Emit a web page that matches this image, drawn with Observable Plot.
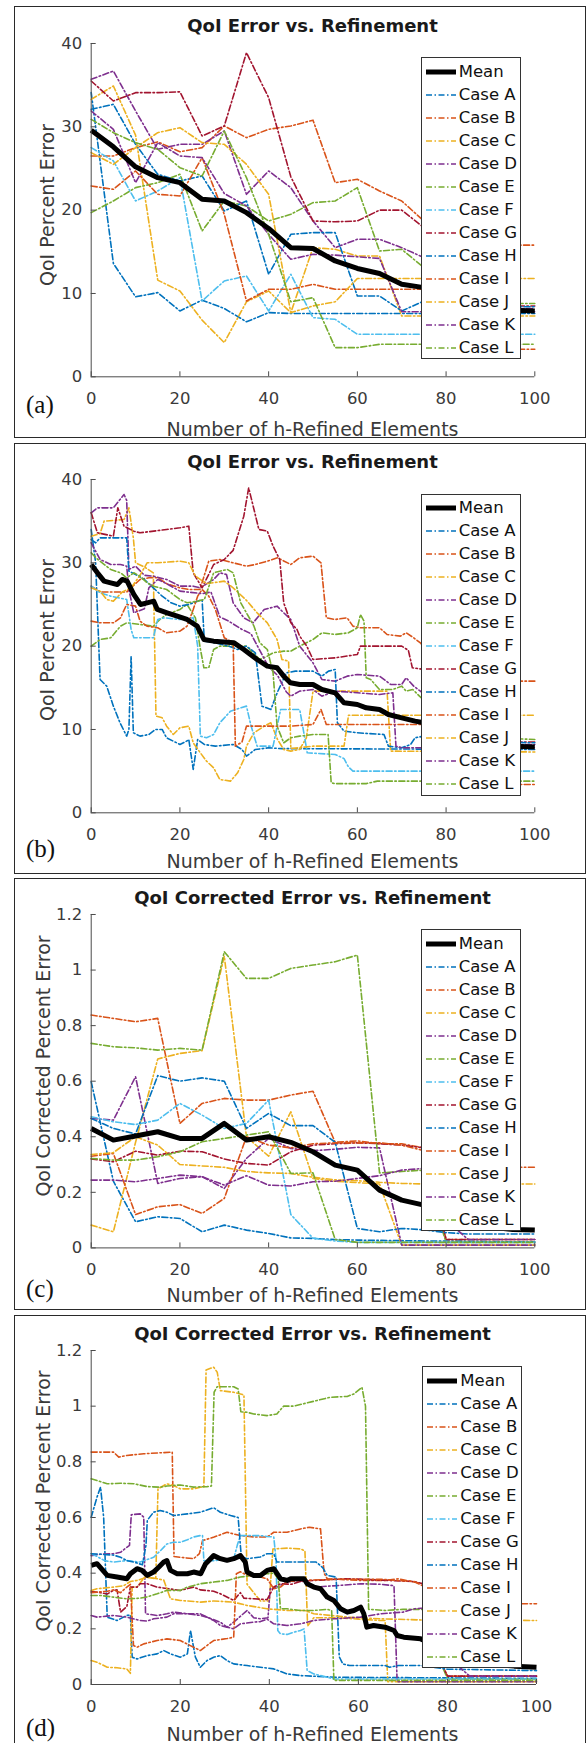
<!DOCTYPE html>
<html><head><meta charset="utf-8">
<script src="https://cdn.jsdelivr.net/npm/d3@7"></script>
<script src="https://cdn.jsdelivr.net/npm/@observablehq/plot@0.6"></script>
<style>
body{margin:0;background:#fff;}
#page{position:relative;width:587px;height:1743px;overflow:hidden;background:#fff;font-family:"DejaVu Sans",sans-serif;}
.box{position:absolute;border:1.5px solid #2a2a2a;box-sizing:border-box;}
.title{position:absolute;transform:translate(-50%,-50%);white-space:nowrap;font-weight:bold;font-size:18px;line-height:18px;color:#1a1a1a;}
.xlabel{position:absolute;transform:translate(-50%,-50%);white-space:nowrap;font-size:19px;line-height:19px;color:#3a3a3a;}
.ylabel{position:absolute;transform:translate(-50%,-50%) rotate(-90deg);white-space:nowrap;font-size:19px;line-height:19px;color:#3a3a3a;}
.letter{position:absolute;transform:translateY(-50%);font-family:"Liberation Serif",serif;font-size:25px;line-height:25px;color:#111;}
.legend{position:absolute;background:#fff;border:1px solid #333;box-sizing:border-box;width:100px;height:302px;}
.row{position:absolute;left:0;height:23px;width:100%;}
.row svg{position:absolute;left:4px;top:6px;}
.row span{position:absolute;left:37px;top:3px;font-size:16.5px;line-height:17px;color:#111;white-space:nowrap;}
</style></head>
<body><div id="page"></div>
<script>
// ---------------- data ----------------
const xTicks = [0, 20, 40, 60, 80, 100];
const yTicksErr = [0, 10, 20, 30, 40];
const yTicksCorr = [0, 0.2, 0.4, 0.6, 0.8, 1, 1.2];
const legendNames = ["Mean", "Case A", "Case B", "Case C", "Case D", "Case E", "Case F", "Case G", "Case H", "Case I", "Case J", "Case K", "Case L"];
const xs5 = [0,5,10,15,20,25,30,35,40,45,50,55,60,65,70,75,80,85,90,95,100];

// Panel (a): sampled every 5 elements
const a_mean = [29.6,27.6,25.2,23.9,23.3,21.3,21.1,19.7,17.8,15.5,15.4,13.9,13.0,12.4,11.1,10.7,9.8,9.0,8.4,8.0,7.9];
const a_A = [34.1,13.6,9.6,10.1,7.9,9.2,8.2,6.6,7.7,7.6,7.6,7.6,7.6,7.6,7.6,7.6,7.6,7.6,7.6,7.6,7.6];
const a_B = [26.5,26.5,27.5,28.2,27.0,27.5,30.1,28.7,29.7,30.1,30.8,23.3,23.7,22.3,21.1,18.7,17.5,16.6,16.0,15.8,15.8];
const a_C = [33.3,34.9,29.0,11.6,10.3,6.8,4.1,9.0,10.3,7.7,15.5,15.3,14.5,14.5,7.3,7.3,7.3,7.3,7.3,7.3,7.3];
const a_D = [35.7,36.7,31.9,27.3,27.9,27.9,29.5,21.9,24.7,22.7,18.7,15.5,16.5,16.5,15.5,14.3,12.0,10.0,8.2,8.2,8.2];
const a_E = [19.7,21.1,22.7,23.3,24.3,17.5,21.1,20.5,18.7,19.5,20.9,21.1,22.7,15.1,15.3,13.1,11.0,9.5,9.0,8.8,8.8];
const a_F = [27.5,25.9,21.1,22.3,23.9,9.1,11.5,12.1,7.9,12.3,7.1,6.9,5.1,5.1,5.1,5.1,5.1,5.1,5.1,5.1,5.1];
const a_G = [35.5,33.1,34.1,34.1,34.2,28.9,30.1,38.9,33.5,24.0,18.7,18.6,18.7,20.0,20.0,17.9,12.0,9.0,8.5,8.5,8.5];
const a_H = [32.1,32.7,27.9,24.3,23.5,24.1,19.9,21.1,12.3,17.1,17.3,17.3,9.7,9.7,7.9,9.1,8.8,8.6,8.5,8.4,8.4];
const a_I = [22.9,22.5,24.7,21.9,21.7,26.3,19.5,9.1,10.5,10.5,11.1,10.5,10.5,10.5,10.5,10.5,8.0,5.0,3.3,3.3,3.3];
const a_J = [26.9,25.5,27.5,29.3,29.9,28.1,27.9,25.5,21.9,7.7,8.5,9.0,11.8,11.8,11.8,11.8,11.8,11.8,11.8,11.8,11.8];
const a_K = [31.9,29.7,23.3,28.1,26.5,26.3,22.0,20.5,17.1,14.1,14.7,14.6,14.4,14.2,7.8,7.8,7.8,7.8,7.8,7.8,7.8];
const a_L = [30.9,29.3,28.1,27.3,25.1,24.1,29.5,23.9,17.1,9.0,9.5,3.5,3.5,3.9,3.9,3.9,3.9,3.9,3.9,3.9,3.9];

// Panel (c): sampled every 5 elements
const c_mean = [0.43,0.388,0.403,0.418,0.394,0.394,0.448,0.388,0.40,0.38,0.346,0.298,0.28,0.208,0.172,0.154,0.12,0.09,0.075,0.066,0.064];
const c_A = [0.598,0.24,0.094,0.112,0.106,0.058,0.082,0.064,0.052,0.036,0.034,0.03,0.028,0.027,0.026,0.025,0.025,0.024,0.023,0.022,0.022];
const c_B = [0.838,0.826,0.814,0.826,0.448,0.52,0.538,0.532,0.532,0.55,0.564,0.38,0.385,0.375,0.375,0.36,0.03,0.03,0.03,0.03,0.03];
const c_C = [0.082,0.058,0.38,0.68,0.70,0.71,1.05,0.40,0.33,0.49,0.25,0.24,0.235,0.23,0.01,0.01,0.01,0.01,0.01,0.01,0.01];
const c_D = [0.466,0.46,0.616,0.232,0.25,0.256,0.214,0.322,0.394,0.358,0.35,0.355,0.362,0.36,0.01,0.01,0.01,0.01,0.01,0.01,0.01];
const c_E = [0.736,0.724,0.72,0.712,0.718,0.712,1.066,0.97,0.97,1.006,1.018,1.03,1.054,0.27,0.275,0.28,0.02,0.02,0.02,0.02,0.02];
const c_F = [0.472,0.454,0.444,0.46,0.52,0.478,0.43,0.448,0.532,0.12,0.035,0.025,0.02,0.02,0.02,0.02,0.02,0.02,0.02,0.02,0.02];
const c_G = [0.32,0.31,0.348,0.334,0.348,0.346,0.32,0.304,0.298,0.346,0.37,0.375,0.378,0.375,0.37,0.36,0.03,0.03,0.03,0.03,0.03];
const c_H = [0.466,0.43,0.41,0.62,0.60,0.612,0.60,0.43,0.484,0.44,0.44,0.38,0.07,0.058,0.07,0.065,0.055,0.05,0.05,0.05,0.05];
const c_I = [0.33,0.34,0.12,0.148,0.156,0.124,0.178,0.40,0.37,0.36,0.375,0.378,0.378,0.378,0.37,0.35,0.31,0.29,0.29,0.29,0.29];
const c_J = [0.336,0.343,0.40,0.37,0.30,0.295,0.29,0.275,0.27,0.268,0.254,0.245,0.242,0.236,0.232,0.23,0.23,0.23,0.23,0.23,0.23];
const c_K = [0.244,0.244,0.238,0.25,0.262,0.256,0.226,0.26,0.226,0.223,0.238,0.24,0.25,0.26,0.28,0.286,0.1,0.03,0.03,0.03,0.03];
const c_L = [0.322,0.316,0.316,0.328,0.346,0.382,0.394,0.406,0.418,0.268,0.27,0.03,0.02,0.02,0.02,0.02,0.02,0.02,0.02,0.02,0.02];

// Panel (b): every element, [elements, error] pairs at changes
const b_mean = [[0,29.8],[1.4,28.8],[2.9,27.8],[4.4,27.6],[5.9,27.4],[7,28],[8.1,27.8],[9.6,26.2],[11.1,25],[12.6,25.2],[14.1,25.4],[14.9,24.4],[17.1,24],[19.4,23.6],[21.6,23.2],[23.9,22.4],[25.4,20.8],[27.6,20.6],[32.2,20.4],[34.4,19.6],[37.4,18.4],[39.7,17.6],[41.9,17.4],[43.4,16.4],[44.9,15.6],[47,15.4],[50,15.4],[52,14.8],[55,14.4],[57,13.2],[60,13.0],[62,12.6],[65,12.4],[67,11.8],[70,11.4],[73,11.0],[75,10.8],[80,9.8],[85,9.0],[90,8.4],[95,8.0],[100,7.9]];
const b_A = [[0,34],[1,30],[2,16],[3.5,15.2],[5,12.8],[6.5,10.8],[8,9.2],[8.5,10],[9,18.8],[9.5,9.6],[11,9.2],[13,9.4],[14.5,10],[16,10],[17,9],[18.5,8.6],[20,8.2],[21.5,8.6],[22,8.8],[23,5.2],[24,8.8],[25.5,8.2],[28,8],[32,8.2],[34,7.6],[35,6.8],[37,7.6],[40,7.8],[43,7.7],[100,7.6]];
const b_B = [[0,27.2],[2,26.5],[5,26.5],[8,26.5],[9,27],[11,28],[13,28.2],[15,28.2],[17,27.5],[20,27],[22,26.8],[24.5,26.8],[26.5,30.2],[29,30.4],[32,30],[35,29.6],[37,29.8],[39.7,30.2],[42,30.6],[45,29.8],[47,30.6],[50,30.8],[51.8,30],[53,23.4],[55,23.2],[57.7,23.4],[59,22.4],[60.7,22.2],[65,22.2],[66.7,21.4],[69.7,21.2],[71,21.6],[72.7,21],[74.2,20.4],[78,18],[85,16.5],[90,16],[95,15.8],[100,15.8]];
const b_C = [[0,33.2],[2,33.5],[2.9,35],[7.4,35.2],[8.5,36.6],[9.5,33],[10,30],[12,29.5],[14,28.8],[14.6,11.6],[16,11.4],[17,10.4],[18.5,9.4],[20,10.2],[22,10.4],[23,8.4],[24.6,7.2],[26,6.2],[27.6,5.4],[29,4],[31.4,3.8],[33,4.8],[34.4,6.4],[35,8],[36.7,9.6],[39,10.4],[40.5,10.8],[42,8.8],[43.4,7.6],[45,7.4],[47,7.6],[48.5,9],[50,14.6],[55,14.6],[60,14.6],[66.7,14.6],[67.5,7.4],[100,7.3]];
const b_D = [[0,36],[1.4,36.6],[5,36.6],[6.5,37.6],[7.4,38.2],[8,37.5],[8.5,29.2],[10,29.6],[12,28.5],[14,28.4],[17,28],[20,27.2],[23,27.2],[24.6,27],[27.6,28],[29,28.8],[30.5,28.6],[32,25.2],[34.4,23.4],[36.5,22.8],[39,24.4],[41.9,24.8],[43.4,24],[45,23.2],[47,20],[50,18],[52,16],[55,15.8],[57.7,16.4],[60,16.6],[65,16.4],[67.5,15.4],[70,15.4],[71,16.2],[72.7,15.2],[74.2,14.6],[80,12],[85,10],[90,8.2],[100,8.2]];
const b_E = [[0,20],[2,20.8],[4.4,21],[6.6,22.4],[8,22.8],[11,22.6],[14,22.4],[15.5,23.2],[17,23.8],[20,24.4],[21.6,25],[23.5,23.4],[24.5,20],[25.4,17.4],[26.5,17.4],[27.6,19.6],[29,20],[32,20],[35,20],[38,18.4],[39.7,18.8],[41,19.2],[43.4,19.4],[45,19.4],[47,20],[50,20.8],[52,21.6],[55,21.4],[58,21.6],[60,22.2],[60.7,23.8],[61.5,23],[62,16.2],[63,16],[65,14.8],[68,14.8],[70,15.2],[71,14.6],[72.5,14.8],[74,14],[80,11],[90,9],[100,8.8]];
const b_F = [[0,27.2],[2,26.4],[4.4,26],[8,25.6],[9,22],[9.6,21],[14,21],[15,23.2],[16.5,23.4],[20,23.2],[23,23.4],[24,20],[24.6,9.2],[26,9],[27.6,9.4],[29,10.8],[31.4,12.2],[33.7,12.6],[35,12.8],[36,10.5],[37.4,8],[41,8],[42.7,12.4],[47,12.4],[48,9.4],[48.7,7.2],[55,7],[57,6.5],[58,5.5],[59,5],[100,5]];
const b_G = [[0,36],[1.4,33.6],[5,33.2],[6,36.6],[7.4,34.4],[9.6,33.8],[11,33.6],[17,34],[20,34.2],[22,34.4],[23,28.8],[25,27],[27.6,29.8],[30,30.4],[32,31.5],[34.4,35.6],[35.5,39],[36.7,36.4],[37.8,34],[39.7,33.8],[41,32],[42.5,30.4],[43.4,25.2],[45,22.8],[46.4,22],[47,21.2],[48.6,20],[50,18.4],[55,18.6],[60,19],[60.7,20],[70,20],[71.5,19.5],[72.4,17.4],[75,17.2],[78,12],[85,9],[90,8.5],[100,8.5]];
const b_H = [[0,32.8],[1,32.4],[2,33],[8,33],[8.5,29],[10,28.6],[12,28],[14,27],[16,26],[18,25.2],[20,24.8],[22,25],[24,25.4],[25,25.6],[25.5,20.6],[28,20.4],[31,20],[33,19.6],[35,20],[37,19.2],[38.5,12.8],[40.5,12.4],[42,14.5],[44,16.8],[46,17],[50,17],[52,16.4],[53.5,17],[55,17.2],[55.5,10.8],[57,9.8],[60,9.6],[66,9.4],[67,8],[70,7.8],[72,8.2],[73,9],[75,9.2],[80,8.8],[90,8.5],[100,8.4]];
const b_I = [[0,23],[2,22.8],[5,22.8],[6.6,23.4],[8,25],[10,24.8],[11,23],[12.6,22.4],[15,22.2],[17,21.6],[20,21.8],[21.6,22.4],[23,24.4],[24,26],[25,26.8],[26.5,26],[28,24.4],[30,21],[32,20.4],[32.5,8],[34,8.5],[35,10.4],[39.7,10.4],[45,10.4],[50,10.6],[51.8,12.4],[53,10.6],[60,10.6],[75,10.6],[80,8],[85,5],[90,3.4],[100,3.4]];
const b_J = [[0,27],[2,26.6],[3.5,25.6],[5,25.4],[7,26.5],[9,27],[11,28.5],[12.6,30],[15,30],[20,30.2],[22,30],[23.5,28.4],[26,27.5],[30,27.8],[32,27],[35,25.5],[37.4,24],[39.7,22.8],[41.9,20.8],[43,18.4],[44.5,18.2],[45,7.7],[50,8],[57,8],[58,11.7],[100,11.7]];
const b_K = [[0,32.4],[2,30.4],[4.4,29.8],[6.6,29.8],[8,29.6],[8.5,26.8],[9.6,24],[12,24.5],[13,27],[15,28],[17,27.5],[20,26.6],[25,26.3],[27,26.5],[29,23.5],[31,23],[34,22],[36,21.5],[38,19.5],[40,17.5],[42,16.5],[44,14.5],[45,14],[47,14.6],[50,14.8],[52,14],[55,14.6],[60,14.4],[65,14.2],[68,14.4],[68.7,8],[70,7.8],[100,7.8]];
const b_L = [[0,31.2],[1.5,30.4],[4.4,29.2],[6.6,28.8],[8,28.2],[9.6,28.8],[11,28.4],[12.6,27.6],[14,27.2],[17,26.8],[20,25.6],[21.6,25.2],[24,25.4],[25.5,25.6],[27.6,28.8],[29,29],[30.7,29.2],[32,28.8],[33.7,25.2],[35,24],[36.7,22.4],[38,20.4],[39.7,19.6],[41,16.8],[41.9,10.4],[43.4,8.4],[45,9],[47,9.2],[50,9.4],[53.4,9.4],[54.1,3.6],[55,3.5],[62,3.5],[64.5,3.8],[100,3.8]];

// Panel (d): every element, [elements, corrected error] pairs at changes
const d_mean = [[0,0.428],[1.3,0.434],[3.6,0.392],[5.8,0.386],[8,0.38],[8.8,0.398],[10.3,0.416],[11.4,0.41],[12.6,0.392],[14,0.404],[15.2,0.422],[16.3,0.44],[17,0.445],[17.8,0.41],[19.3,0.398],[21.6,0.398],[23,0.404],[24.6,0.398],[25.7,0.434],[27.5,0.463],[29,0.452],[30.5,0.446],[32,0.452],[33.5,0.463],[34.6,0.44],[35,0.404],[36.5,0.392],[38,0.392],[39.5,0.41],[41,0.416],[42.5,0.38],[44,0.374],[44.8,0.38],[47.8,0.38],[48.5,0.362],[50,0.35],[51.5,0.344],[53,0.314],[54.5,0.302],[56,0.272],[57.5,0.26],[59,0.266],[60.5,0.278],[61.2,0.255],[61.9,0.206],[63.4,0.212],[66,0.206],[68,0.194],[68.7,0.176],[70.2,0.17],[74,0.164],[80,0.12],[85,0.09],[90,0.075],[95,0.066],[100,0.062]];
const d_A = [[0,0.601],[1.3,0.673],[2.1,0.709],[2.8,0.6],[3.6,0.242],[5.8,0.23],[8,0.248],[8.8,0.25],[9.2,0.098],[10.3,0.092],[12.6,0.104],[14.8,0.11],[16.3,0.122],[17.8,0.11],[20,0.098],[21.6,0.11],[22.3,0.194],[23.4,0.098],[24.5,0.062],[26,0.086],[27.5,0.098],[29,0.104],[30.5,0.086],[32,0.074],[35,0.068],[38,0.062],[41,0.056],[44,0.038],[47,0.032],[55,0.026],[100,0.022]];
const d_B = [[0,0.835],[5,0.835],[6.2,0.817],[8,0.823],[11.8,0.829],[18.2,0.835],[18.6,0.46],[20,0.457],[23,0.452],[24.3,0.47],[25,0.517],[27.6,0.53],[30.5,0.547],[33.5,0.535],[36.5,0.53],[39.5,0.53],[41,0.547],[44,0.547],[47,0.559],[49,0.565],[51.5,0.559],[52.3,0.4],[53,0.38],[60.5,0.374],[66,0.374],[69,0.38],[72.5,0.368],[75,0.36],[78,0.1],[80,0.03],[100,0.03]];
const d_C = [[0,0.086],[1.3,0.08],[3.6,0.062],[5.8,0.06],[8,0.056],[8.8,0.04],[9.2,0.35],[10.3,0.35],[12,0.386],[14.5,0.38],[15,0.703],[17,0.721],[18.5,0.715],[20,0.703],[23,0.703],[24.5,0.709],[25.3,0.71],[25.8,1.13],[27.5,1.14],[28.3,1.122],[29,1.056],[32,1.05],[33.5,1.044],[34.3,1.04],[35,0.36],[36.5,0.33],[38,0.3],[40,0.3],[40.8,0.487],[44,0.49],[47,0.487],[48,0.48],[48.6,0.21],[50,0.24],[55,0.24],[60,0.235],[65,0.23],[66,0.23],[66.6,0.01],[100,0.01]];
const d_D = [[0,0.463],[2,0.468],[5,0.47],[6.6,0.475],[8,0.493],[8.6,0.5],[9,0.61],[11,0.613],[11.8,0.601],[12.2,0.254],[14.8,0.248],[17,0.254],[18.5,0.26],[21.6,0.254],[24.5,0.254],[26,0.242],[27.5,0.23],[29,0.212],[30.5,0.206],[32,0.224],[35,0.266],[36.5,0.24],[38,0.236],[39.7,0.24],[40.2,0.344],[41.7,0.35],[44,0.368],[47,0.374],[50,0.35],[55,0.355],[60.5,0.362],[65,0.36],[68,0.355],[68.7,0.01],[100,0.01]];
const d_E = [[0,0.739],[1.3,0.733],[3.6,0.721],[6.6,0.723],[9.6,0.721],[12.6,0.711],[15.6,0.709],[17,0.713],[20,0.717],[23,0.709],[26,0.711],[27,0.713],[27.6,1.05],[28.3,1.07],[32,1.07],[33,1.062],[33.6,0.98],[35,0.978],[36.5,0.972],[39.5,0.966],[41.7,0.972],[43.2,1.0],[45.5,1.0],[47.5,1.008],[53.7,1.032],[57.5,1.035],[59,1.044],[60.8,1.068],[61.6,1.0],[62.3,0.27],[66,0.266],[70,0.27],[75,0.27],[78,0.1],[80,0.02],[100,0.02]];
const d_F = [[0,0.47],[1.3,0.46],[3,0.445],[5,0.44],[8,0.445],[11,0.44],[14,0.457],[15.5,0.48],[17,0.505],[18.5,0.511],[20,0.511],[21.6,0.52],[23,0.53],[24.5,0.535],[25,0.535],[25.3,0.445],[27.5,0.445],[32,0.452],[32.8,0.5],[33.5,0.535],[38,0.535],[39.5,0.532],[41,0.53],[41.5,0.45],[41.9,0.194],[42.5,0.182],[44,0.18],[45.5,0.188],[47,0.194],[47.8,0.2],[48.5,0.05],[50,0.038],[54.5,0.02],[100,0.02]];
const d_G = [[0,0.335],[2,0.33],[3.6,0.325],[5,0.338],[5.8,0.34],[6.6,0.26],[8,0.28],[8.8,0.35],[10.3,0.35],[11,0.362],[12.6,0.362],[14.8,0.35],[17,0.345],[20,0.338],[23,0.35],[24.5,0.34],[27.5,0.335],[29,0.326],[32,0.302],[33.5,0.33],[34.3,0.31],[36.5,0.308],[39.5,0.305],[41,0.35],[42.5,0.362],[45,0.36],[47,0.37],[50,0.374],[57.5,0.38],[65,0.375],[72.5,0.37],[75,0.36],[78,0.1],[80,0.03],[100,0.03]];
const d_H = [[0,0.47],[2,0.468],[5,0.465],[6.6,0.457],[8,0.445],[9.6,0.44],[11.5,0.43],[12.3,0.5],[12.6,0.59],[14,0.619],[15.5,0.625],[17,0.619],[18.5,0.607],[21.6,0.613],[24.5,0.619],[27.5,0.635],[29,0.619],[31.3,0.607],[33,0.6],[33.7,0.46],[35,0.452],[38,0.458],[39.5,0.47],[41,0.47],[41.7,0.44],[47,0.44],[50.5,0.44],[52,0.42],[53,0.392],[55,0.386],[55.7,0.1],[56.5,0.074],[58,0.068],[66,0.068],[67,0.062],[69,0.068],[74,0.068],[80,0.055],[100,0.05]];
const d_I = [[0,0.33],[3.6,0.335],[5,0.34],[6.6,0.33],[8,0.35],[8.8,0.36],[9.5,0.14],[10.3,0.134],[11.8,0.146],[14.8,0.158],[17,0.164],[20,0.158],[21.6,0.145],[23,0.134],[24.5,0.122],[26,0.14],[27.5,0.158],[30.5,0.165],[32,0.17],[32.6,0.398],[33.5,0.405],[35,0.392],[38,0.386],[39.5,0.38],[41,0.344],[42.5,0.35],[44,0.37],[47,0.374],[55,0.378],[65,0.378],[72.5,0.37],[75,0.35],[80,0.31],[85,0.29],[100,0.29]];
const d_J = [[0,0.338],[1.3,0.344],[5,0.35],[7.3,0.355],[8.8,0.37],[10.3,0.374],[12.6,0.386],[14.8,0.38],[16.3,0.375],[17.8,0.308],[20,0.302],[24.6,0.296],[27.5,0.3],[32,0.296],[35,0.284],[39.5,0.272],[44,0.266],[48,0.266],[50,0.254],[57.5,0.242],[65,0.236],[74,0.232],[100,0.23]];
const d_K = [[0,0.248],[1.3,0.242],[5,0.248],[8,0.242],[11,0.23],[12.6,0.228],[14,0.236],[17,0.242],[18.5,0.254],[21.6,0.254],[24.5,0.248],[26,0.242],[29,0.224],[30.5,0.206],[32,0.2],[33.5,0.218],[36.5,0.224],[38,0.226],[39.5,0.235],[41,0.218],[44,0.212],[47,0.218],[50,0.23],[54.5,0.236],[60.5,0.242],[65,0.254],[70,0.26],[72.5,0.272],[75,0.275],[80,0.1],[85,0.03],[100,0.03]];
const d_L = [[0,0.32],[2,0.32],[5,0.314],[8,0.308],[11,0.31],[12.6,0.315],[14.8,0.326],[17,0.338],[20,0.338],[21.6,0.35],[24.5,0.362],[27.5,0.368],[30.5,0.374],[33.5,0.386],[36.5,0.392],[39.5,0.398],[41,0.4],[42,0.38],[42.5,0.272],[44,0.272],[47,0.266],[50,0.266],[53,0.27],[54,0.266],[54.5,0.015],[100,0.015]];

// ---------------- styling / layout ----------------
const caseColors = ["#0072BD","#D95319","#EDB120","#7E2F8E","#77AC30","#4DBEEE","#A2142F","#0072BD","#D95319","#EDB120","#7E2F8E","#77AC30"];
const dash = "6,2.5,1.5,2.5";
const axisColor = "#4a4a4a";

const fromGrid = arr => arr.map((y, i) => ({x: xs5[i], y}));
const fromPairs = arr => arr.map(([x, y]) => ({x, y}));

const panels = [
  {letter:"(a)", boxTop:7, boxH:432, plotTop:42.7, plotBottom:376, right:534.3, yMax:40, yTicks:yTicksErr,
   title:"QoI Error vs. Refinement", ylabel:"QoI Percent Error", titleY:25.5, ylabelX:46.7, ylabelY:205, xlabelY:428.5, letterY:404,
   legend:[420.7, 57.3], mean:fromGrid(a_mean), cases:[a_A,a_B,a_C,a_D,a_E,a_F,a_G,a_H,a_I,a_J,a_K,a_L].map(fromGrid)},
  {letter:"(b)", boxTop:444, boxH:431, plotTop:478.7, plotBottom:812, right:534.3, yMax:40, yTicks:yTicksErr,
   title:"QoI Error vs. Refinement", ylabel:"QoI Percent Error", titleY:462, ylabelX:46.7, ylabelY:640, xlabelY:861, letterY:848,
   legend:[420.7, 493.7], mean:fromPairs(b_mean), cases:[b_A,b_B,b_C,b_D,b_E,b_F,b_G,b_H,b_I,b_J,b_K,b_L].map(fromPairs)},
  {letter:"(c)", boxTop:879, boxH:432, plotTop:914.3, plotBottom:1247.7, right:534.3, yMax:1.2, yTicks:yTicksCorr,
   title:"QoI Corrected Error vs. Refinement", ylabel:"QoI Corrected Percent Error", titleY:898, ylabelX:42.5, ylabelY:1066, xlabelY:1295, letterY:1288,
   legend:[420.7, 929.3], mean:fromGrid(c_mean), cases:[c_A,c_B,c_C,c_D,c_E,c_F,c_G,c_H,c_I,c_J,c_K,c_L].map(fromGrid)},
  {letter:"(d)", boxTop:1316, boxH:440, plotTop:1350.3, plotBottom:1684.3, right:536, yMax:1.2, yTicks:yTicksCorr,
   title:"QoI Corrected Error vs. Refinement", ylabel:"QoI Corrected Percent Error", titleY:1334, ylabelX:42.5, ylabelY:1501, xlabelY:1734, letterY:1727,
   legend:[422.3, 1366], mean:fromPairs(d_mean), cases:[d_A,d_B,d_C,d_D,d_E,d_F,d_G,d_H,d_I,d_J,d_K,d_L].map(fromPairs)}
];

const page = document.getElementById("page");
function el(cls, text, css) {
  const d = document.createElement("div");
  d.className = cls; if (text) d.textContent = text;
  Object.assign(d.style, css); page.appendChild(d); return d;
}

for (const p of panels) {
  el("box", null, {left:"14px", top:(p.boxTop-1)+"px", width:"572px", height:p.boxH+"px"});
  const W = 587, mL = 90.7, mR = W - p.right;
  const svgTop = p.plotTop - 30;
  const H = (p.plotBottom - p.plotTop) + 30 + 50;
  const innerH = p.plotBottom - p.plotTop, innerW = p.right - mL;
  const marks = [
    ...p.cases.map((c, i) => Plot.line(c, {x:"x", y:"y", stroke:caseColors[i], strokeWidth:1.6, strokeDasharray:dash})),
    Plot.line(p.mean, {x:"x", y:"y", stroke:"#000", strokeWidth:5, strokeLinejoin:"round", strokeLinecap:"butt"}),
    Plot.ruleX([0], {stroke:axisColor, strokeWidth:1}),
    Plot.ruleY([0], {stroke:axisColor, strokeWidth:1}),
    Plot.ruleX(xTicks, {x:d=>d, insetTop:innerH-5, stroke:axisColor}),
    Plot.ruleY(p.yTicks, {y:d=>d, insetRight:innerW-5, stroke:axisColor}),
    Plot.axisX({ticks:xTicks, tickSize:0, tickPadding:15.5, label:null, tickFormat:d=>String(d)}),
    Plot.axisY({ticks:p.yTicks, tickSize:0, tickPadding:9, label:null, tickFormat:d=>String(d)})
  ];
  const svg = Plot.plot({
    width:W, height:H, marginLeft:mL, marginRight:mR, marginTop:30, marginBottom:50,
    x:{domain:[0,100]}, y:{domain:[0,p.yMax]},
    style:{fontFamily:"'DejaVu Sans', sans-serif", fontSize:"16.5px", color:"#3a3a3a", background:"transparent", overflow:"visible"},
    marks
  });
  svg.style.position = "absolute"; svg.style.left = "0px"; svg.style.top = svgTop + "px";
  page.appendChild(svg);

  el("title", p.title, {left:"312.5px", top:p.titleY+"px"});
  el("ylabel", p.ylabel, {left:p.ylabelX+"px", top:p.ylabelY+"px"});
  el("xlabel", "Number of h-Refined Elements", {left:"312.5px", top:p.xlabelY+"px"});
  el("letter", p.letter, {left:"26px", top:p.letterY+"px"});

  const lg = el("legend", null, {left:p.legend[0]+"px", top:p.legend[1]+"px"});
  legendNames.forEach((name, i) => {
    const row = document.createElement("div");
    row.className = "row";
    row.style.top = (14.3 + 23*i - 11.5 - 1) + "px";
    const isMean = i === 0;
    const col = isMean ? "#000" : caseColors[i-1];
    row.innerHTML = `<svg width="30" height="12"><line x1="0" y1="6" x2="30" y2="6" stroke="${col}" stroke-width="${isMean?5:1.6}" ${isMean?"":`stroke-dasharray="${dash}"`}/></svg><span>${name}</span>`;
    lg.appendChild(row);
  });
}
</script>
</body></html>
